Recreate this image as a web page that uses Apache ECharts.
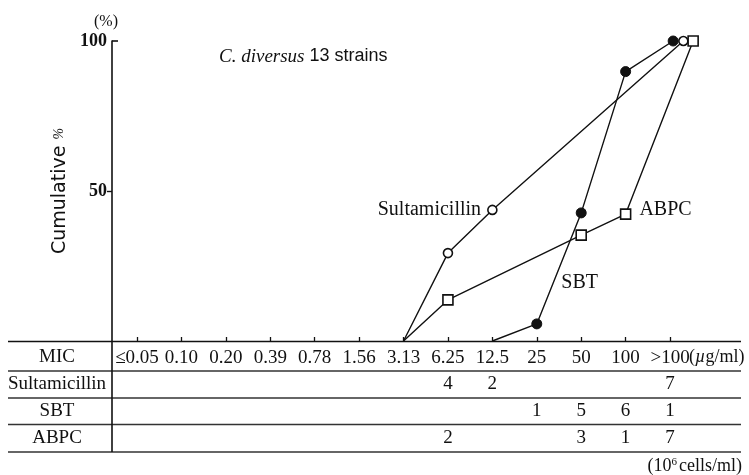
<!DOCTYPE html>
<html>
<head>
<meta charset="utf-8">
<script src="https://cdn.jsdelivr.net/npm/echarts@6/dist/echarts.min.js"></script>
<style>
  html, body { margin: 0; padding: 0; background: #fff; }
  #chart { width: 749px; height: 475px; }
</style>
</head>
<body>
<div id="chart"></div>
<script>
// MIC categories (µg/ml)
const micLabels = ['≤0.05', '0.10', '0.20', '0.39', '0.78', '1.56', '3.13', '6.25', '12.5', '25', '50', '100', '>100'];

// Cumulative % of strains inhibited, per drug
const sultamicillinMic = ['3.13', '6.25', '12.5', '>100'];
const sultamicillinCum = [0, 29.3, 43.7, 100];
const sbtMic = ['12.5', '25', '50', '100', '>100'];
const sbtCum = [0, 5.7, 42.7, 89.8, 100];
const abpcMic = ['3.13', '6.25', '50', '100', '>100'];
const abpcCum = [0, 13.7, 35.3, 42.3, 100];

// Number of strains at each MIC (table rows)
const tableRows = ['Sultamicillin', 'SBT', 'ABPC'];
const sultamicillinCounts = [null, null, null, null, null, null, null, 4, 2, null, null, null, 7];
const sbtCounts = [null, null, null, null, null, null, null, null, null, 1, 5, 6, 1];
const abpcCounts = [null, null, null, null, null, null, null, 2, null, null, 3, 1, 7];

const yTicks = [50, 100];

const SERIF = '"Liberation Serif", "DejaVu Serif", serif';
const INK = '#111';

// pixel layout of plot and table
const LEFT = 112, RIGHT_EDGE = 740;
const PLOT_TOP = 41, PLOT_BOTTOM = 341;
const STEP = 44.42;          // px per MIC step
const FIRST_TICK = 137;      // px of first MIC tick
const xMin = -(FIRST_TICK - LEFT) / STEP;
const xMax = xMin + (RIGHT_EDGE - LEFT) / STEP;

// markers at ">100" are spread sideways so they do not overlap
function toPoints(mics, cums, topShift) {
  return mics.map((m, i) => {
    let x = micLabels.indexOf(m);
    if (m === '>100') x += topShift;
    return [x, cums[i]];
  });
}

function countPoints(counts, row) {
  const out = [];
  counts.forEach((c, i) => { if (c != null) out.push([i, row, c]); });
  return out;
}

// the line starts at 0 % without a marker
const markerFor = shape => (v => (v[1] === 0 ? 'none' : shape));

const lineStyle = { color: INK, width: 1.4 };

const sultaData = toPoints(sultamicillinMic, sultamicillinCum, 0.3);
sultaData[2] = { value: sultaData[2], label: { show: true, position: 'left', distance: 6, formatter: 'Sultamicillin', fontFamily: SERIF, fontSize: 20, color: INK } };

const sbtData = toPoints(sbtMic, sbtCum, 0.07);
sbtData[1] = { value: sbtData[1], label: { show: true, position: 'right', offset: [14, -41], formatter: 'SBT', fontFamily: SERIF, fontSize: 20, color: INK } };

const abpcData = toPoints(abpcMic, abpcCum, 0.52);
abpcData[3] = { value: abpcData[3], label: { show: true, position: 'right', distance: 8, offset: [0, -4], formatter: 'ABPC', fontFamily: SERIF, fontSize: 20, color: INK } };

const chart = echarts.init(document.getElementById('chart'), null, { renderer: 'canvas' });

const tableTop = 371, rowH = 27;

const option = {
  backgroundColor: '#fff',
  animation: false,
  grid: [
    { left: LEFT, width: RIGHT_EDGE - LEFT, top: PLOT_TOP, height: PLOT_BOTTOM - PLOT_TOP },
    { left: LEFT, width: RIGHT_EDGE - LEFT, top: tableTop, height: rowH * 3 }
  ],
  xAxis: [
    {
      gridIndex: 0, type: 'value', min: xMin, max: xMax,
      axisLine: { show: false, onZero: false },
      splitLine: { show: false },
      axisTick: { show: true, inside: true, length: 4, lineStyle: { color: INK, width: 1.3 }, customValues: micLabels.map((_, i) => i) },
      axisLabel: {
        show: true, margin: 8, fontFamily: SERIF, fontSize: 19, color: INK,
        customValues: micLabels.map((_, i) => i),
        formatter: v => micLabels[Math.round(v)]
      }
    },
    {
      gridIndex: 1, type: 'value', min: xMin, max: xMax, show: false
    }
  ],
  yAxis: [
    {
      gridIndex: 0, type: 'value', min: 0, max: 100,
      name: 'Cumulative {p|%}', nameLocation: 'middle', nameGap: 42, nameRotate: 90,
      nameTextStyle: { fontFamily: '"DejaVu Sans", sans-serif', fontSize: 19, color: INK, rich: { p: { fontFamily: SERIF, fontStyle: 'italic', fontSize: 14, color: INK } } },
      axisLine: { show: true, onZero: false, lineStyle: { color: INK, width: 1.6 } },
      axisTick: { show: true, inside: false, length: 5, lineStyle: { color: INK, width: 1.4 }, customValues: [50] },
      axisLabel: { show: true, margin: 5, fontFamily: SERIF, fontWeight: 'bold', fontSize: 18, color: INK, customValues: yTicks },
      splitLine: { show: false }
    },
    {
      gridIndex: 0, type: 'value', min: 0, max: 100, position: 'left',
      axisLine: { show: false, onZero: false },
      axisTick: { show: true, inside: true, length: 6, lineStyle: { color: INK, width: 1.6 }, customValues: [100] },
      axisLabel: { show: false },
      splitLine: { show: false }
    },
    {
      gridIndex: 1, type: 'category', data: tableRows, inverse: true,
      axisLine: { show: false, onZero: false }, axisTick: { show: false }, splitLine: { show: false },
      axisLabel: { show: true, align: 'center', margin: 55, fontFamily: SERIF, fontSize: 19, color: INK }
    }
  ],
  title: {
    text: '{i|C. diversus} 13 strains',
    left: 214, top: 42,
    textStyle: {
      fontFamily: '"Liberation Sans", sans-serif', fontSize: 18, fontWeight: 'normal', color: INK,
      rich: { i: { fontFamily: SERIF, fontStyle: 'italic', fontSize: 19, color: INK } }
    }
  },
  series: [
    {
      name: 'Sultamicillin', type: 'line', xAxisIndex: 0, yAxisIndex: 0,
      data: sultaData, symbol: markerFor('circle'), symbolSize: 9, showAllSymbol: true,
      lineStyle: lineStyle,
      itemStyle: { color: '#fff', borderColor: INK, borderWidth: 1.6 }, z: 3
    },
    {
      name: 'SBT', type: 'line', xAxisIndex: 0, yAxisIndex: 0,
      data: sbtData, symbol: markerFor('circle'), symbolSize: 10, showAllSymbol: true,
      lineStyle: lineStyle,
      itemStyle: { color: INK, borderColor: INK, borderWidth: 1 }, z: 3
    },
    {
      name: 'ABPC', type: 'line', xAxisIndex: 0, yAxisIndex: 0,
      data: abpcData, symbol: markerFor('rect'), symbolSize: 10, showAllSymbol: true,
      lineStyle: lineStyle,
      itemStyle: { color: '#fff', borderColor: INK, borderWidth: 1.6 }, z: 3
    },
    {
      name: 'counts', type: 'scatter', xAxisIndex: 1, yAxisIndex: 2,
      symbolSize: 0,
      itemStyle: { opacity: 1 },
      data: [].concat(
        countPoints(sultamicillinCounts, tableRows[0]),
        countPoints(sbtCounts, tableRows[1]),
        countPoints(abpcCounts, tableRows[2])
      ),
      label: { show: true, position: 'inside', formatter: p => String(p.value[2]), fontFamily: SERIF, fontSize: 19, color: INK, opacity: 1 }
    }
  ],
  graphic: [
    // table rules
    { id: 'r0', type: 'line', shape: { x1: 8, y1: 341.5, x2: 741, y2: 341.5 }, style: { stroke: INK, lineWidth: 1.6 } },
    { id: 'r1', type: 'line', shape: { x1: 8, y1: 371, x2: 741, y2: 371 }, style: { stroke: '#333', lineWidth: 1.6 } },
    { id: 'r2', type: 'line', shape: { x1: 8, y1: 398, x2: 741, y2: 398 }, style: { stroke: '#333', lineWidth: 1.6 } },
    { id: 'r3', type: 'line', shape: { x1: 8, y1: 424.5, x2: 741, y2: 424.5 }, style: { stroke: '#333', lineWidth: 1.6 } },
    { id: 'r4', type: 'line', shape: { x1: 8, y1: 452, x2: 741, y2: 452 }, style: { stroke: '#333', lineWidth: 1.6 } },
    { id: 'v0', type: 'line', shape: { x1: LEFT, y1: 341, x2: LEFT, y2: 452 }, style: { stroke: INK, lineWidth: 1.6 } },
    // row header of MIC line
    { id: 'mic', type: 'text', x: 57, y: 357, style: { text: 'MIC', fontFamily: SERIF, fontSize: 19, fill: INK, align: 'center', verticalAlign: 'middle' } },
    // units
    { id: 'pct', type: 'text', x: 106, y: 22, style: { text: '(%)', fontFamily: SERIF, fontSize: 16, fill: INK, align: 'center', verticalAlign: 'middle' } },
    { id: 'cells', type: 'text', x: 742, y: 466, style: { text: '(10{s|6}cells/ml)', fontFamily: SERIF, fontSize: 18, fill: INK, align: 'right', verticalAlign: 'middle', rich: { s: { fontFamily: SERIF, fontSize: 11, verticalAlign: 'top', padding: [0, 2, 8, 0] } } } }
  ]
};

chart.setOption(option);

// unit text after the last MIC label
const lastX = chart.convertToPixel({ xAxisIndex: 0 }, micLabels.length - 1);
chart.setOption({
  graphic: [{
    id: 'unit', type: 'text', x: lastX + 19, y: 357,
    style: { text: '({i|µ}g/ml)', fontFamily: SERIF, fontSize: 18, fill: INK, align: 'left', verticalAlign: 'middle', rich: { i: { fontFamily: SERIF, fontStyle: 'italic', fontSize: 18 } } }
  }]
});
</script>
</body>
</html>
